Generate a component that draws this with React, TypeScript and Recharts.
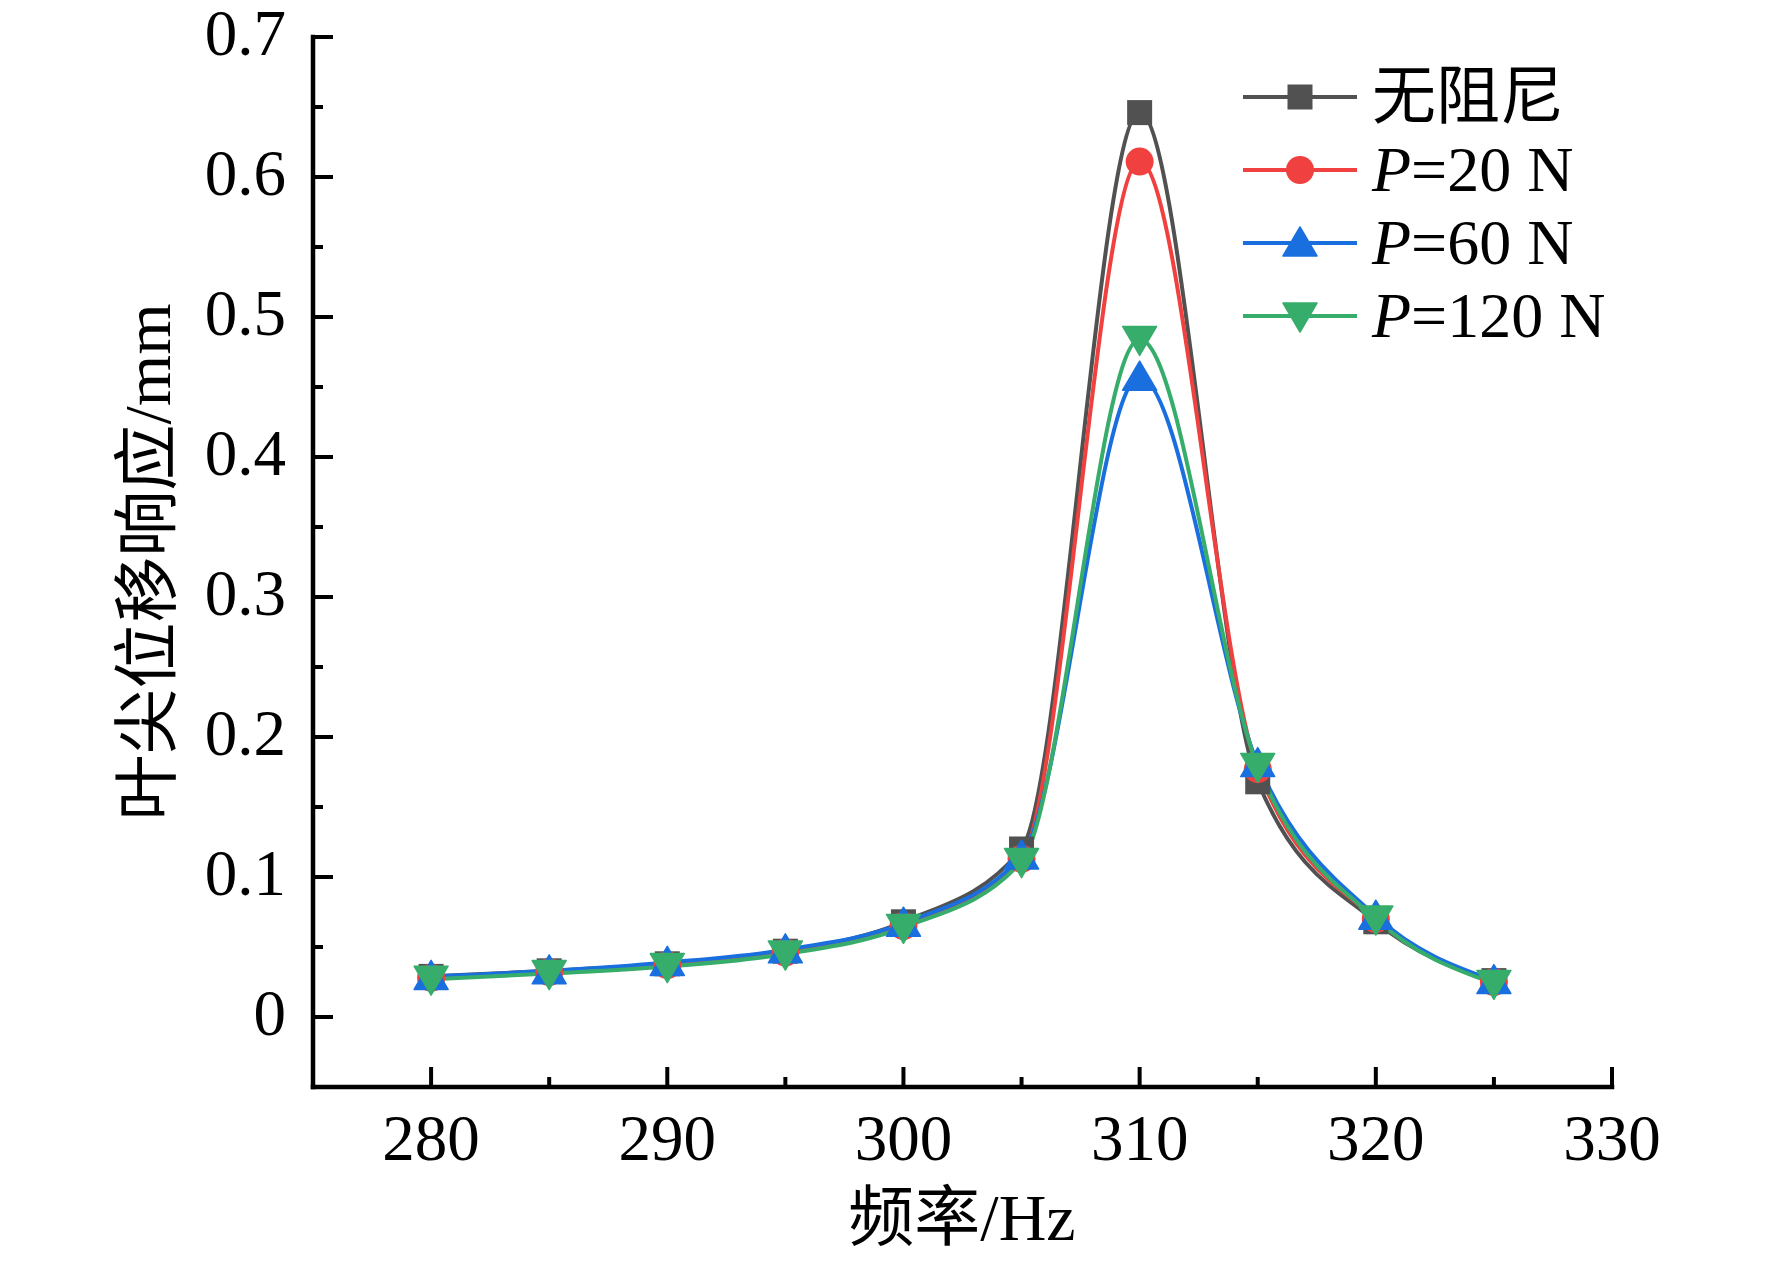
import React from 'react';
import { LineChart, Line, XAxis, YAxis, Legend, Label } from 'recharts';

// frequency points (Hz)
const freqs = [280, 285, 290, 295, 300, 305, 310, 315, 320, 325];

// tip displacement response (mm)
const noDamping = [0.029, 0.033, 0.038, 0.047, 0.068, 0.120, 0.646, 0.168, 0.068, 0.026];
const p20 = [0.028, 0.032, 0.037, 0.046, 0.065, 0.113, 0.611, 0.177, 0.070, 0.025];
const p60 = [0.029, 0.033, 0.039, 0.048, 0.067, 0.115, 0.457, 0.181, 0.072, 0.026];
const p120 = [0.027, 0.031, 0.036, 0.045, 0.064, 0.111, 0.484, 0.179, 0.070, 0.024];

const xTicks = [280, 285, 290, 295, 300, 305, 310, 315, 320, 325, 330];
const yTicks = [0, 0.05, 0.1, 0.15, 0.2, 0.25, 0.3, 0.35, 0.4, 0.45, 0.5, 0.55, 0.6, 0.65, 0.7];

const FONT = '"Liberation Serif", "Times New Roman", "Noto Sans CJK SC", serif';

const series = [
    { key: 's0', name: '无阻尼', color: '#515151', shape: 'square', values: noDamping },
    { key: 's1', name: 'P=20 N', color: '#F14040', shape: 'circle', values: p20 },
    { key: 's2', name: 'P=60 N', color: '#1A6FDF', shape: 'up', values: p60 },
    { key: 's3', name: 'P=120 N', color: '#37AD6B', shape: 'down', values: p120 },
];

const rows = freqs.map((f, i) => {
    const row: any = { freq: f };
    series.forEach((s) => { row[s.key] = s.values[i]; });
    return row;
});

function Marker({ cx, cy, shape, color }: any) {
    if (shape === 'square') return <rect x={cx - 12.5} y={cy - 12.5} width={25} height={25} fill={color} />;
    if (shape === 'circle') return <circle cx={cx} cy={cy} r={14} fill={color} />;
    if (shape === 'up') return <polygon points={`${cx},${cy - 16} ${cx - 17},${cy + 13} ${cx + 17},${cy + 13}`} fill={color} strokeLinejoin="round" stroke={color} strokeWidth={1.5} />;
    return <polygon points={`${cx},${cy + 16} ${cx - 17},${cy - 13} ${cx + 17},${cy - 13}`} fill={color} strokeLinejoin="round" stroke={color} strokeWidth={1.5} />;
}

function XTick({ x, y, payload }: any) {
    const v = payload.value;
    const major = v % 10 === 0;
    return (
        <g>
            <line x1={x} y1={y} x2={x} y2={y - (major ? 20 : 10)} stroke="#000" strokeWidth={4} />
            {major && (
                <text x={x} y={y + 73} textAnchor="middle" fontSize={65} fontFamily={FONT} fill="#000">{v}</text>
            )}
        </g>
    );
}

function YTick({ x, y, payload }: any) {
    const v = payload.value;
    const major = Math.round(v * 100) % 10 === 0;
    return (
        <g>
            <line x1={x} y1={y} x2={x + (major ? 20 : 10)} y2={y} stroke="#000" strokeWidth={4} />
            {major && (
                <text x={x - 27} y={y + 18} textAnchor="end" fontSize={65} fontFamily={FONT} fill="#000">
                    {Number(v.toFixed(1)).toString()}
                </text>
            )}
        </g>
    );
}

function renderLegend() {
    return (
        <div style={{ fontFamily: FONT, fontSize: 64, color: '#000' }}>
            {series.map((s) => (
                <div key={s.key} style={{ display: 'flex', alignItems: 'center', height: 73 }}>
                    <svg width={114} height={40} style={{ overflow: 'visible' }}>
                        <line x1={0} y1={20} x2={114} y2={20} stroke={s.color} strokeWidth={4} />
                        <Marker cx={57} cy={20} shape={s.shape} color={s.color} />
                    </svg>
                    <span style={{ marginLeft: 15, whiteSpace: 'nowrap', lineHeight: '73px' }}>
                        {s.name.startsWith('P=') ? (<><i>P</i>{s.name.slice(1)}</>) : s.name}
                    </span>
                </div>
            ))}
        </div>
    );
}

export default function App() {
    return (
        <div style={{ position: 'absolute', left: 0, top: 0, width: 1772, height: 1262, background: '#fff' }}>
            <LineChart width={1772} height={1262} data={rows} margin={{ top: 37, right: 160, bottom: 0, left: 0 }}>
                <XAxis
                    type="number"
                    dataKey="freq"
                    domain={[275, 330]}
                    ticks={xTicks}
                    interval={0}
                    height={175}
                    tickSize={0}
                    tickMargin={0}
                    tickLine={false}
                    tick={<XTick />}
                    axisLine={{ stroke: '#000', strokeWidth: 4.5, strokeLinecap: 'square' }}
                    allowDataOverflow
                >
                    <Label
                        content={() => (
                            <text x={962} y={1240} textAnchor="middle" fontSize={66} fontFamily={FONT} fill="#000">频率/Hz</text>
                        )}
                    />
                </XAxis>
                <YAxis
                    type="number"
                    domain={[-0.05, 0.7]}
                    ticks={yTicks}
                    interval={0}
                    width={313}
                    tickSize={0}
                    tickMargin={0}
                    tickLine={false}
                    tick={<YTick />}
                    axisLine={{ stroke: '#000', strokeWidth: 4.5, strokeLinecap: 'square' }}
                    allowDataOverflow
                >
                    <Label
                        content={() => (
                            <text
                                x={147}
                                y={562}
                                transform="rotate(-90 147 562)"
                                textAnchor="middle"
                                dominantBaseline="central"
                                fontSize={66}
                                fontFamily={FONT}
                                fill="#000"
                            >
                                叶尖位移响应/mm
                            </text>
                        )}
                    />
                </YAxis>
                <Legend
                    layout="vertical"
                    align="center"
                    verticalAlign="middle"
                    content={renderLegend}
                    wrapperStyle={{ position: 'absolute', left: 1243, top: 60, width: 480, height: 300 }}
                />
                {series.map((s) => (
                    <Line
                        key={s.key}
                        type="monotone"
                        dataKey={s.key}
                        name={s.name}
                        stroke={s.color}
                        strokeWidth={4}
                        isAnimationActive={false}
                        activeDot={false}
                        dot={(p: any) => <Marker key={`${s.key}-${p.index}`} cx={p.cx} cy={p.cy} shape={s.shape} color={s.color} />}
                    />
                ))}
            </LineChart>
        </div>
    );
}
